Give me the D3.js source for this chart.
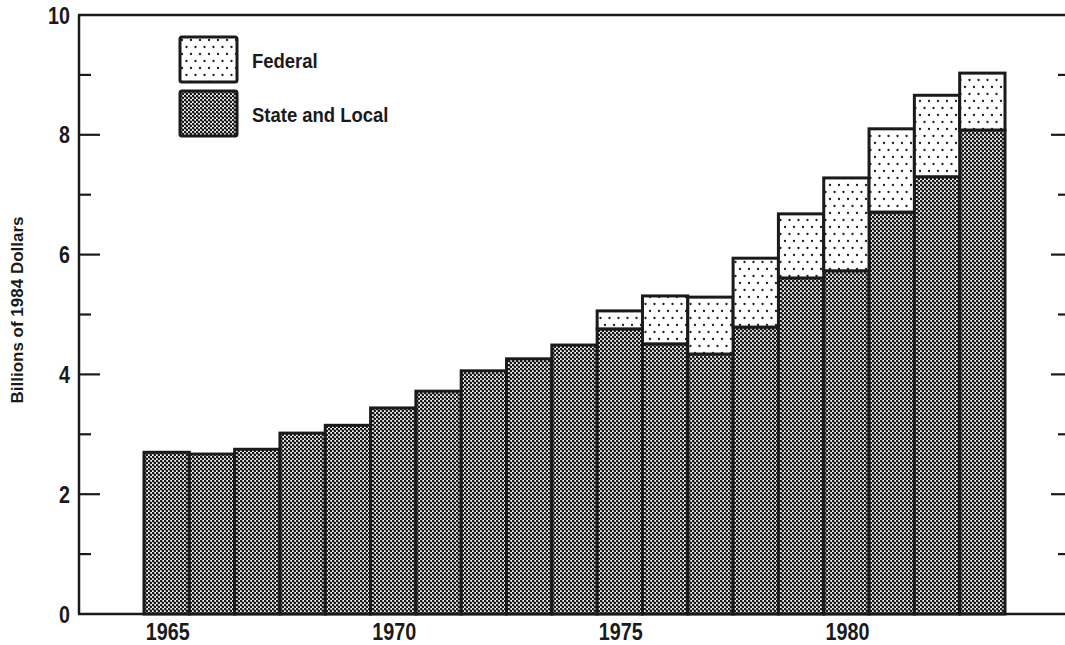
<!DOCTYPE html>
<html>
<head>
<meta charset="utf-8">
<script src="https://cdn.jsdelivr.net/npm/d3@7/dist/d3.min.js"></script>
<style>
body{margin:0;background:#fff;overflow:hidden;}
svg text{font-family:"Liberation Sans",Arial,sans-serif;font-weight:bold;fill:#1a1a1a;}
</style>
</head>
<body>
<div id="container"></div>
<script>
var width = 1065;
var height = 645;

// years and values (billions of 1984 dollars)
var years = [1965,1966,1967,1968,1969,1970,1971,1972,1973,1974,1975,1976,1977,1978,1979,1980,1981,1982,1983];
var stateLocal = [2.70,2.67,2.75,3.02,3.15,3.44,3.72,4.06,4.26,4.49,4.76,4.51,4.34,4.79,5.61,5.73,6.71,7.30,8.08];
var federal = [0,0,0,0,0,0,0,0,0,0,0.30,0.80,0.95,1.15,1.07,1.55,1.39,1.36,0.95];
var yearLabels = [1965,1970,1975,1980];
var yMajor = [0,2,4,6,8,10];
var yMinor = [1,3,5,7,9];

var ink = "#1a1a1a";

var svg = d3.select("div#container").append("svg")
	.attr("width", width)
	.attr("height", height)
	.style("display", "block");

var defs = svg.append("defs");

// dense dot screen for State and Local
var pc = defs.append("pattern")
	.attr("id", "checker")
	.attr("patternUnits", "userSpaceOnUse")
	.attr("width", 4).attr("height", 4);
pc.append("rect").attr("width", 4).attr("height", 4).attr("fill", "#fff");
[[1,1],[3,3]].forEach(function(p){
	pc.append("circle").attr("cx", p[0]).attr("cy", p[1]).attr("r", 1.4).attr("fill", ink);
});

// sparse dots for Federal
var pf = defs.append("pattern")
	.attr("id", "dots")
	.attr("patternUnits", "userSpaceOnUse")
	.attr("width", 9).attr("height", 14);
pf.append("rect").attr("width", 9).attr("height", 14).attr("fill", "#fff");
[[2,3],[6.5,10]].forEach(function(p){
	pf.append("circle").attr("cx", p[0]).attr("cy", p[1]).attr("r", 1.15).attr("fill", ink);
});

var x = d3.scaleBand().domain(years).range([144, 1005]).paddingInner(0).paddingOuter(0);
var y = d3.scaleLinear().domain([0, 10]).range([614, 15]);

var data = years.map(function(yr, i){
	return {year: yr, state: stateLocal[i], fed: federal[i]};
});

var G = svg.append("g");

// state and local bars
G.selectAll("rect.state")
	.data(data)
	.enter()
	.append("rect")
	.attr("class", "state")
	.attr("x", function(d){ return x(d.year); })
	.attr("width", x.bandwidth())
	.attr("y", function(d){ return y(d.state); })
	.attr("height", function(d){ return y(0) - y(d.state); })
	.attr("fill", "url(#checker)")
	.attr("stroke", ink)
	.attr("stroke-width", 3);

// federal bars on top
G.selectAll("rect.fed")
	.data(data.filter(function(d){ return d.fed > 0; }))
	.enter()
	.append("rect")
	.attr("class", "fed")
	.attr("x", function(d){ return x(d.year); })
	.attr("width", x.bandwidth())
	.attr("y", function(d){ return y(d.state + d.fed); })
	.attr("height", function(d){ return y(d.state) - y(d.state + d.fed); })
	.attr("fill", "url(#dots)")
	.attr("stroke", ink)
	.attr("stroke-width", 3);

// frame: left axis, top line, bottom line
svg.append("line").attr("x1", 79).attr("x2", 79).attr("y1", y(10)).attr("y2", y(0))
	.attr("stroke", ink).attr("stroke-width", 2.5);
svg.append("line").attr("x1", 78).attr("x2", width).attr("y1", y(10)).attr("y2", y(10))
	.attr("stroke", ink).attr("stroke-width", 2.5);
svg.append("line").attr("x1", 78).attr("x2", width).attr("y1", y(0)).attr("y2", y(0))
	.attr("stroke", ink).attr("stroke-width", 2.5);

// left ticks
svg.selectAll("line.lmaj").data(yMajor.filter(function(v){ return v > 0 && v < 10; }))
	.enter().append("line")
	.attr("x1", 79).attr("x2", 100)
	.attr("y1", function(d){ return y(d); }).attr("y2", function(d){ return y(d); })
	.attr("stroke", ink).attr("stroke-width", 2.2);
svg.selectAll("line.lmin").data(yMinor)
	.enter().append("line")
	.attr("x1", 79).attr("x2", 91)
	.attr("y1", function(d){ return y(d); }).attr("y2", function(d){ return y(d); })
	.attr("stroke", ink).attr("stroke-width", 2.2);

// right ticks
svg.selectAll("line.rmaj").data(yMajor.filter(function(v){ return v > 0 && v < 10; }))
	.enter().append("line")
	.attr("x1", 1051).attr("x2", width)
	.attr("y1", function(d){ return y(d); }).attr("y2", function(d){ return y(d); })
	.attr("stroke", ink).attr("stroke-width", 2.2);
svg.selectAll("line.rmin").data(yMinor)
	.enter().append("line")
	.attr("x1", 1058).attr("x2", width)
	.attr("y1", function(d){ return y(d); }).attr("y2", function(d){ return y(d); })
	.attr("stroke", ink).attr("stroke-width", 2.2);

// y tick labels (condensed look via horizontal scale)
svg.selectAll("text.ylab").data(yMajor)
	.enter().append("text")
	.attr("transform", function(d){ return "translate(70," + y(d) + ") scale(0.82,1)"; })
	.attr("dy", "0.36em")
	.attr("text-anchor", "end")
	.attr("font-size", 24)
	.text(function(d){ return d; });

// x labels
svg.selectAll("text.xlab").data(yearLabels)
	.enter().append("text")
	.attr("transform", function(d){ return "translate(" + (x(d) + x.bandwidth() / 2 + 1) + ",640) scale(0.86,1)"; })
	.attr("text-anchor", "middle")
	.attr("font-size", 23)
	.text(function(d){ return d; });

// y axis title
svg.append("text")
	.attr("transform", "translate(23,310) rotate(-90)")
	.attr("text-anchor", "middle")
	.attr("font-size", 17)
	.text("Billions of 1984 Dollars");

// legend
var legend = [
	{label: "Federal", fill: "url(#dots)"},
	{label: "State and Local", fill: "url(#checker)"}
];
var lg = svg.selectAll("g.legend").data(legend).enter().append("g")
	.attr("transform", function(d, i){ return "translate(180," + (37 + i * 54) + ")"; });
lg.append("rect")
	.attr("width", 57).attr("height", 45)
	.attr("rx", 2)
	.attr("fill", function(d){ return d.fill; })
	.attr("stroke", ink).attr("stroke-width", 3);
lg.append("text")
	.attr("transform", "translate(72,23) scale(0.88,1)")
	.attr("dy", "0.36em")
	.attr("font-size", 21)
	.text(function(d){ return d.label; });
</script>
</body>
</html>
